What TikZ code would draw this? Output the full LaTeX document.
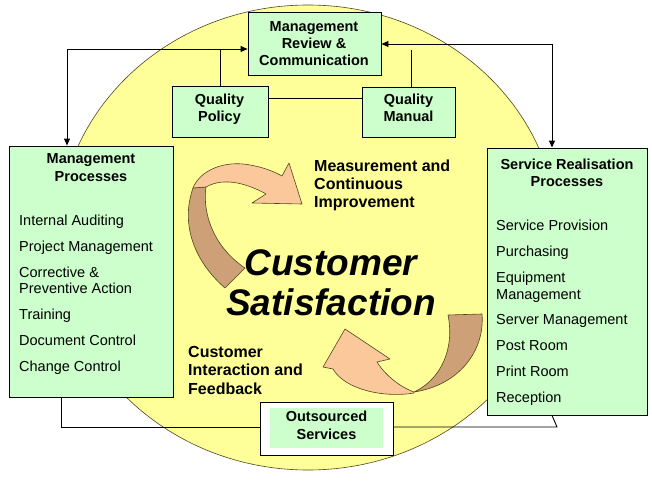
\documentclass[tikz,border=0pt]{standalone}
\usepackage{fontspec}
\setmainfont{Liberation Sans}
\usetikzlibrary{arrows.meta}
\definecolor{ylw}{RGB}{255,255,153}
\definecolor{grn}{RGB}{204,255,204}
\definecolor{peach}{RGB}{250,200,155}
\definecolor{tanband}{RGB}{205,160,120}
\definecolor{edgec}{RGB}{80,70,30}
\begin{document}
\begin{tikzpicture}[x=1pt,y=-1pt,
  box/.style={draw=black, line width=0.9pt, fill=grn, inner sep=0pt},
  hdr/.style={font=\fontsize{14.5}{17}\selectfont\bfseries, inner sep=0pt, anchor=base},
  itm/.style={font=\fontsize{14.5}{17}\selectfont, inner sep=0pt, anchor=base west},
  lbl/.style={font=\fontsize{16}{18}\selectfont\bfseries, inner sep=0pt, anchor=base west},
  big/.style={font=\fontsize{37}{40}\selectfont\bfseries\itshape, inner sep=0pt, anchor=base},
  con/.style={draw=black, line width=0.9pt},
  arr/.style={con, -{Triangle[length=7pt,width=6pt]}},
  band/.style={draw=edgec, line width=0.6pt, line join=round}
]
\useasboundingbox (0,0) rectangle (652,487);
\fill[white] (0,0) rectangle (652,487);
\draw[fill=ylw, draw=edgec, line width=0.6pt] (308,237.5) ellipse [x radius=250pt, y radius=232.5pt];

% boxes
\node[box, minimum width=133pt, minimum height=63pt] (mr) at (314.5,43.5) {};
\node[box, minimum width=96pt, minimum height=51pt] (qp) at (220,111.5) {};
\node[box, minimum width=93pt, minimum height=50pt] (qm) at (408.5,112) {};
\node[box, minimum width=164pt, minimum height=251pt] (lp) at (91,271.5) {};
\node[box, minimum width=160pt, minimum height=267pt] (rp) at (567,281.5) {};
\node[draw=black, line width=0.9pt, fill=white, minimum width=133pt, minimum height=53pt, inner sep=0pt] (os) at (326.5,428.5) {};
\node[fill=grn, minimum width=113pt, minimum height=40pt, inner sep=0pt] (osin) at (326.5,428) {};

% connectors
\coordinate (c1) at (67,49);
\coordinate (c2) at (552,44);
\coordinate (c3) at (411,50);
\coordinate (cq) at (0,98);
\coordinate (c4) at (61,427);
\coordinate (c5) at (557,427);
\coordinate (c6) at (552,0);
\draw[arr] (c1) -- (c1 -| mr.west);
\draw[arr] (c1) -- (c1 |- lp.north);
\draw[con] (qp.north) -- (qp.north |- c1);
\draw[arr] (c2) -- (c2 -| mr.east);
\draw[arr] (c2) -- (c2 |- rp.north);
\draw[con] (qm.north -| c3) -- (c3);
\draw[con] (cq -| qp.east) -- (cq -| qm.west);
\draw[con] (c4 |- lp.south) -- (c4) -- (c4 -| os.west);
\draw[con] (c4 -| os.east) -- (c5) -- (c6 |- rp.south);

% curved arrow 1 (upper left)
\draw[band, fill=tanband] (225,288) .. controls (195,262) and (180,225) .. (193,188)
  -- (206,187) .. controls (202,215) and (215,248) .. (245,268) -- cycle;
\draw[band, fill=peach] (193,188) .. controls (200,170) and (225,160) .. (250,165)
  .. controls (262,167) and (273,171) .. (282,176) -- (289,163) -- (302,204) -- (252,203)
  -- (266,194) .. controls (250,185) and (225,176) .. (206,187) -- cycle;

% curved arrow 2 (lower right)
\draw[band, fill=tanband] (448,315) -- (482,314) .. controls (485,350) and (460,385) .. (414,392)
  .. controls (440,380) and (455,350) .. (448,315) -- cycle;
\draw[band, fill=peach] (414,393) .. controls (385,398) and (345,390) .. (333,369)
  -- (323,367) -- (345,329) -- (390,359) -- (377,362)
  .. controls (385,375) and (400,387) .. (414,392) -- cycle;

% texts
\node[hdr] (mr1) at (314,31) {Management};
\node[hdr] (mr2) at (314,48.3) {Review \&};
\node[hdr] (mr3) at (314,65.6) {Communication};
\node[hdr] (qp1) at (219.5,104) {Quality};
\node[hdr] (qp2) at (219.5,121.5) {Policy};
\node[hdr] (qm1) at (408.5,104) {Quality};
\node[hdr] (qm2) at (408.5,121.5) {Manual};

\node[hdr] (lph1) at (91,163) {Management};
\node[hdr] (lph2) at (91,181) {Processes};
\node[itm] (l1) at (19,225) {Internal Auditing};
\node[itm] (l2) at (19,251) {Project Management};
\node[itm] (l3) at (19,277.5) {Corrective \&};
\node[itm] (l4) at (19,293.5) {Preventive Action};
\node[itm] (l5) at (19,319) {Training};
\node[itm] (l6) at (19,345) {Document Control};
\node[itm] (l7) at (19,371) {Change Control};

\node[hdr] (rph1) at (567,169) {Service Realisation};
\node[hdr] (rph2) at (567,186.5) {Processes};
\node[itm] (r1) at (496,230.5) {Service Provision};
\node[itm] (r2) at (496,256.5) {Purchasing};
\node[itm] (r3) at (496,282.5) {Equipment};
\node[itm] (r4) at (496,299.5) {Management};
\node[itm] (r5) at (496,324.5) {Server Management};
\node[itm] (r6) at (496,350.5) {Post Room};
\node[itm] (r7) at (496,376.5) {Print Room};
\node[itm] (r8) at (496,402) {Reception};

\node[lbl] (m1) at (314,171) {Measurement and};
\node[lbl] (m2) at (314,189) {Continuous};
\node[lbl] (m3) at (314,207) {Improvement};
\node[lbl] (f1) at (188,357) {Customer};
\node[lbl] (f2) at (188,375.5) {Interaction and};
\node[lbl] (f3) at (188,394) {Feedback};

\node[big] (cs1) at (331,275) {Customer};
\node[big] (cs2) at (331,315) {Satisfaction};

\node[hdr] (os1) at (326.5,421.5) {Outsourced};
\node[hdr] (os2) at (326.5,439) {Services};
\end{tikzpicture}
\end{document}
